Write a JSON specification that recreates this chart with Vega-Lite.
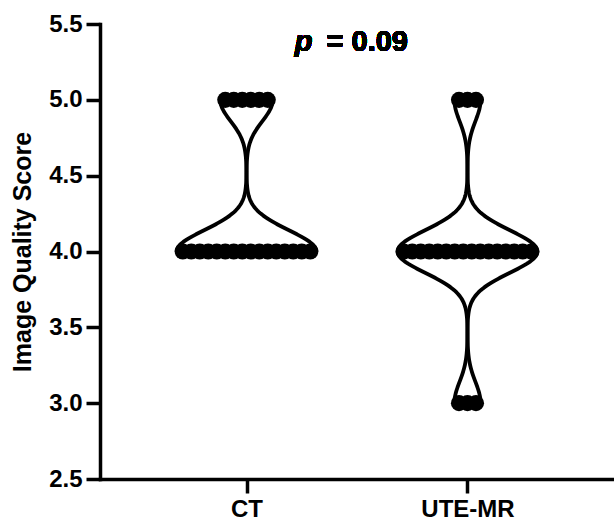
{
  "$schema": "https://vega.github.io/schema/vega-lite/v6.json",
  "width": 514,
  "height": 455,
  "autosize": {"type": "none"},
  "padding": {"left": 100, "top": 24, "right": 0, "bottom": 46},
  "background": "white",
  "config": {
    "font": "Liberation Sans",
    "view": {"stroke": null},
    "axis": {
      "domainColor": "black",
      "domainWidth": 3.5,
      "domainCap": "square",
      "tickColor": "black",
      "tickWidth": 3.5,
      "tickSize": 14,
      "labelColor": "black",
      "labelFontWeight": "bold",
      "labelFont": "Liberation Sans",
      "titleFont": "Liberation Sans",
      "titleColor": "black",
      "titleFontWeight": "bold",
      "grid": false
    }
  },
  "data": {
    "values": [
      {"group": "CT", "score": 4}, {"group": "CT", "score": 4}, {"group": "CT", "score": 4}, {"group": "CT", "score": 4},
      {"group": "CT", "score": 4}, {"group": "CT", "score": 4}, {"group": "CT", "score": 4}, {"group": "CT", "score": 4},
      {"group": "CT", "score": 4}, {"group": "CT", "score": 4}, {"group": "CT", "score": 4}, {"group": "CT", "score": 4},
      {"group": "CT", "score": 4}, {"group": "CT", "score": 4}, {"group": "CT", "score": 4}, {"group": "CT", "score": 4},
      {"group": "CT", "score": 5}, {"group": "CT", "score": 5}, {"group": "CT", "score": 5},
      {"group": "CT", "score": 5}, {"group": "CT", "score": 5}, {"group": "CT", "score": 5},
      {"group": "UTE-MR", "score": 3}, {"group": "UTE-MR", "score": 3}, {"group": "UTE-MR", "score": 3},
      {"group": "UTE-MR", "score": 4}, {"group": "UTE-MR", "score": 4}, {"group": "UTE-MR", "score": 4}, {"group": "UTE-MR", "score": 4},
      {"group": "UTE-MR", "score": 4}, {"group": "UTE-MR", "score": 4}, {"group": "UTE-MR", "score": 4}, {"group": "UTE-MR", "score": 4},
      {"group": "UTE-MR", "score": 4}, {"group": "UTE-MR", "score": 4}, {"group": "UTE-MR", "score": 4}, {"group": "UTE-MR", "score": 4},
      {"group": "UTE-MR", "score": 4}, {"group": "UTE-MR", "score": 4}, {"group": "UTE-MR", "score": 4}, {"group": "UTE-MR", "score": 4},
      {"group": "UTE-MR", "score": 5}, {"group": "UTE-MR", "score": 5}, {"group": "UTE-MR", "score": 5}
    ]
  },
  "encoding": {
    "x": {
      "field": "group",
      "type": "nominal",
      "scale": {"type": "point", "domain": ["CT", "UTE-MR"], "padding": 0.663},
      "axis": {"title": null, "labelAngle": 0, "labelFontSize": 24, "labelPadding": 4}
    },
    "y": {
      "field": "score",
      "type": "quantitative",
      "scale": {"domain": [2.5, 5.5], "nice": false, "zero": false},
      "axis": {
        "title": "Image Quality Score",
        "titleFontSize": 25,
        "titlePadding": 13,
        "values": [2.5, 3, 3.5, 4, 4.5, 5, 5.5],
        "format": ".1f",
        "labelFontSize": 24,
        "labelPadding": 4
      }
    }
  },
  "layer": [
    {
      "transform": [
        {"filter": "datum.group === 'CT'"},
        {"density": "score", "groupby": ["group"], "bandwidth": 0.14, "steps": 200, "extent": [4, 5], "as": ["score", "density"]}
      ],
      "mark": {"type": "line", "color": "black", "strokeWidth": 3.8},
      "encoding": {
        "xOffset": {"field": "density", "type": "quantitative", "scale": {"domain": [0, 2.0723], "range": [0, -70], "nice": false, "zero": false}},
        "detail": {"field": "group"},
        "order": {"field": "score", "type": "quantitative"}
      }
    },
    {
      "transform": [
        {"filter": "datum.group === 'CT'"},
        {"density": "score", "groupby": ["group"], "bandwidth": 0.14, "steps": 200, "extent": [4, 5], "as": ["score", "density"]}
      ],
      "mark": {"type": "line", "color": "black", "strokeWidth": 3.8},
      "encoding": {
        "xOffset": {"field": "density", "type": "quantitative", "scale": {"domain": [0, 2.0723], "range": [0, 70], "nice": false, "zero": false}},
        "detail": {"field": "group"},
        "order": {"field": "score", "type": "quantitative"}
      }
    },
    {
      "transform": [
        {"filter": "datum.group === 'UTE-MR'"},
        {"density": "score", "groupby": ["group"], "bandwidth": 0.14, "steps": 300, "extent": [3, 5], "as": ["score", "density"]}
      ],
      "mark": {"type": "line", "color": "black", "strokeWidth": 3.8},
      "encoding": {
        "xOffset": {"field": "density", "type": "quantitative", "scale": {"domain": [0, 2.0723], "range": [0, -70], "nice": false, "zero": false}},
        "detail": {"field": "group"},
        "order": {"field": "score", "type": "quantitative"}
      }
    },
    {
      "transform": [
        {"filter": "datum.group === 'UTE-MR'"},
        {"density": "score", "groupby": ["group"], "bandwidth": 0.14, "steps": 300, "extent": [3, 5], "as": ["score", "density"]}
      ],
      "mark": {"type": "line", "color": "black", "strokeWidth": 3.8},
      "encoding": {
        "xOffset": {"field": "density", "type": "quantitative", "scale": {"domain": [0, 2.0723], "range": [0, 70], "nice": false, "zero": false}},
        "detail": {"field": "group"},
        "order": {"field": "score", "type": "quantitative"}
      }
    },
    {
      "transform": [
        {"window": [{"op": "row_number", "as": "k"}], "groupby": ["group", "score"]},
        {"joinaggregate": [{"op": "count", "as": "n"}], "groupby": ["group", "score"]},
        {"calculate": "datum.k - (datum.n + 1) / 2", "as": "slot"}
      ],
      "mark": {"type": "point", "filled": true, "color": "black", "opacity": 1, "size": 260},
      "encoding": {
        "xOffset": {"field": "slot", "type": "quantitative", "scale": {"domain": [0, 1], "range": [0, 8.5], "nice": false, "zero": false}}
      }
    },
    {
      "mark": {"type": "text", "text": "p", "fontSize": 29, "fontWeight": "bold", "fontStyle": "italic", "align": "right", "baseline": "alphabetic", "dx": 66, "color": "black"},
      "encoding": {"x": {"datum": "CT"}, "y": {"datum": 5.32}}
    },
    {
      "mark": {"type": "text", "text": "= 0.09", "fontSize": 29, "fontWeight": "bold", "align": "left", "baseline": "alphabetic", "dx": 80, "color": "black"},
      "encoding": {"x": {"datum": "CT"}, "y": {"datum": 5.32}}
    }
  ],
  "resolve": {"scale": {"xOffset": "independent"}}
}
